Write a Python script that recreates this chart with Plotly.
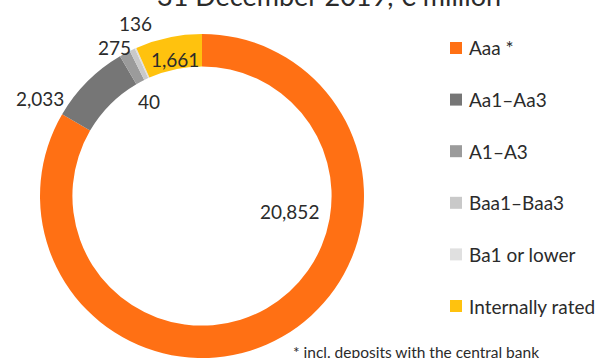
import plotly.graph_objects as go

# ---- data ----
categories = ["Aaa *", "Aa1\u2013Aa3", "A1\u2013A3", "Baa1\u2013Baa3", "Ba1 or lower", "Internally rated"]
values = [20852, 2033, 275, 136, 40, 1661]
colors = ["#FF7014", "#767676", "#9B9B9B", "#C9C9C9", "#E0E0E0", "#FFC20E"]
title_text = "31 December 2019, \u20ac million"
footnote = "* incl. deposits with the central bank"

W, H = 597, 358
FONT = "Lato"
TXT = "#2b2b2b"

# label positions (pixels) for the value labels
label_px = [(289, 211), (40, 98), (114, 47), (135, 23), (149, 102), (175, 59)]

fig = go.Figure()
fig.add_trace(go.Pie(
    labels=categories,
    values=values,
    marker=dict(colors=colors, line=dict(width=0)),
    hole=0.80,
    sort=False,
    direction="clockwise",
    rotation=0,
    textinfo="none",
    showlegend=False,
    domain=dict(x=[(202 - 162) / W, (202 + 162) / W], y=[0, 0.905]),
))

def px(x, y):
    return x / W, 1 - y / H

annotations = []
shapes = []
for (x, y), v in zip(label_px, values):
    ax, ay = px(x, y)
    annotations.append(dict(x=ax, y=ay, xref="paper", yref="paper", text=f"{v:,}",
                            showarrow=False, xanchor="center", yanchor="middle",
                            font=dict(family=FONT, size=19, color=TXT)))

# custom legend
for i, (cat, col) in enumerate(zip(categories, colors)):
    yc = 48 + i * 51.6
    x0, y0 = px(450, yc - 6)
    x1, y1 = px(462, yc + 6)
    shapes.append(dict(type="rect", xref="paper", yref="paper", x0=x0, x1=x1, y0=y1, y1=y0,
                       fillcolor=col, line=dict(width=0)))
    tx, ty = px(467, yc)
    annotations.append(dict(x=tx, y=ty, xref="paper", yref="paper", text=cat, showarrow=False,
                            xanchor="left", yanchor="middle",
                            font=dict(family=FONT, size=19, color=TXT)))

# title (partially cut at top)
tx, ty = px(329, -4)
annotations.append(dict(x=tx, y=ty, xref="paper", yref="paper", text=title_text, showarrow=False,
                        xanchor="center", yanchor="middle",
                        font=dict(family=FONT, size=27, color=TXT)))

# footnote
fx, fy = px(291, 352)
annotations.append(dict(x=fx, y=fy, xref="paper", yref="paper", text=footnote, showarrow=False,
                        xanchor="left", yanchor="middle",
                        font=dict(family=FONT, size=15.5, color=TXT)))

fig.update_layout(
    width=W, height=H,
    margin=dict(l=0, r=0, t=0, b=0),
    paper_bgcolor="white", plot_bgcolor="white",
    annotations=annotations, shapes=shapes,
)

fig.write_html("out.html")
